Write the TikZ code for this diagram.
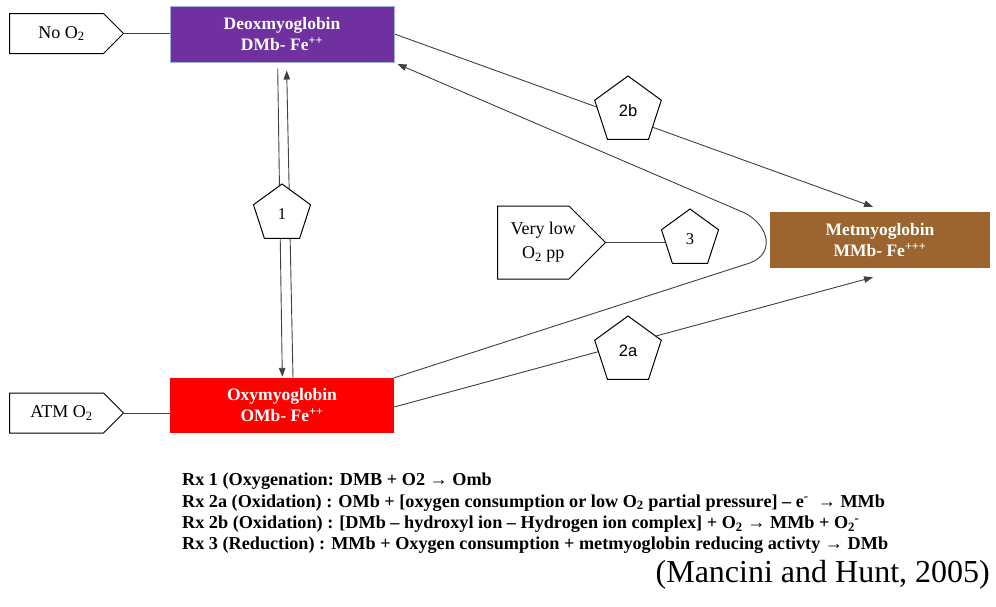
\documentclass[tikz,border=0pt]{standalone}
\usepackage{fontspec}
\setmainfont{Liberation Serif}
\newfontfamily\labsans{Liberation Sans}
\usetikzlibrary{shapes.geometric,shapes.symbols,arrows.meta,calc,backgrounds}
\definecolor{deoxc}{HTML}{7030A0}
\definecolor{deoxb}{HTML}{9DB3DD}
\definecolor{oxyc}{HTML}{FF0000}
\definecolor{metc}{HTML}{9C6530}
\definecolor{linec}{HTML}{404040}
\newcommand{\pl}[1]{\raisebox{-5pt}{#1}}
\newcommand{\sh}[2]{\hspace*{#1}#2\hspace*{-#1}}
\begin{document}
\begin{tikzpicture}[x=1pt,y=-1pt,
  bigbox/.style={rectangle, text=white, align=center, inner sep=0pt,
    font=\fontsize{17.5}{21}\selectfont\bfseries},
  srcbox/.style={signal, signal to=east, signal pointer angle=90, draw=black,
    line width=1pt, fill=white, align=center, inner sep=0pt, anchor=west,
    font=\fontsize{18}{24}\selectfont},
  penta/.style={regular polygon, regular polygon sides=5, draw=black, fill=white,
    line width=1pt, inner sep=0pt, font=\fontsize{16.5}{19}\selectfont},
  conn/.style={draw=linec, line width=0.9pt},
  arr/.style={conn, -{Triangle[length=9pt,width=6.5pt]}},
]
\useasboundingbox (0,0) rectangle (996,606);

% main boxes
\node[bigbox, fill=deoxc, draw=deoxb, line width=1pt, minimum width=224pt, minimum height=56pt]
  (deoxy) at (282,34) {Deoxmyoglobin\\DMb- Fe\textsuperscript{++}};
\node[bigbox, fill=oxyc, minimum width=224pt, minimum height=55pt]
  (oxy) at (282,405.5) {Oxymyoglobin\\OMb- Fe\textsuperscript{++}};
\node[bigbox, fill=metc, minimum width=220pt, minimum height=56pt]
  (met) at (880,240) {Metmyoglobin\\MMb- Fe\textsuperscript{+++}};

% source boxes
\node[srcbox, minimum width=114pt, minimum height=40pt] (noo) at (9,33.5) {\sh{5pt}{No O\textsubscript{2}}};
\node[srcbox, minimum width=114pt, minimum height=40pt] (atm) at (9,413) {\sh{5pt}{ATM O\textsubscript{2}}};
\node[srcbox, minimum width=108pt, minimum height=73pt] (low) at (497,242.5) {\sh{10pt}{Very low}\\\sh{10pt}{O\textsubscript{2} pp}};

% reaction pentagons
\node[penta, minimum size=60pt] (p1) at (282,214) {\pl{1}};
\node[penta, minimum size=70pt, font=\fontsize{16.5}{19}\selectfont\labsans] (p2b) at (628,111) {\pl{2b}};
\node[penta, minimum size=70pt, font=\fontsize{16.5}{19}\selectfont\labsans] (p2a) at (628,351) {\pl{2a}};
\node[penta, minimum size=60pt] (p3) at (690,239) {\pl{3}};

% connectors
\begin{scope}[on background layer]
\draw[conn] (noo.east) -- (noo.east -| deoxy.west);
\draw[conn] (atm.east) -- (atm.east -| oxy.west);
\draw[conn] (low.east) -- (low.east -| p3.center);
\draw[arr] ($(deoxy.south)+(-4.3,6)$) -- ($(oxy.north)+(0.3,-1)$);
\draw[arr] ($(oxy.north)+(11,0)$) -- ($(deoxy.south)+(4.7,8)$);
\draw[arr] (deoxy.east) -- ($(met.north)+(-7,-5)$);
\draw[arr] ($(oxy.east)+(0,1.5)$) -- ($(met.south)+(-7,9)$);
\draw[arr] (oxy.north east) -- ($(met.west)+(-20,23)$)
  .. controls ($(met.west)+(5,14)$) and ($(met.west)+(0,-14)$) .. ($(met.west)+(-25,-27)$)
  -- ($(deoxy.south east)+(3,1.5)$);
\end{scope}

% reaction text
\node[anchor=north west, align=left, inner sep=0pt,
  font=\fontsize{18.2}{21.3}\selectfont\bfseries] (rx) at (182,473)
{Rx 1 (Oxygenation: DMB + O2 → Omb\\
Rx 2a (Oxidation) : OMb + [oxygen consumption or low O\textsubscript{2} partial pressure] – e\textsuperscript{-}\ \ → MMb\\
Rx 2b (Oxidation) : [DMb – hydroxyl ion – Hydrogen ion complex] + O\textsubscript{2} → MMb + O\textsubscript{2}\kern-0.5pt\textsuperscript{-}\\
Rx 3 (Reduction) : MMb + Oxygen consumption + metmyoglobin reducing activty → DMb};

\node[anchor=east, inner sep=0pt, font=\fontsize{32}{36}\selectfont] (cite) at (990,575)
  {(Mancini and Hunt, 2005)};
\end{tikzpicture}
\end{document}
